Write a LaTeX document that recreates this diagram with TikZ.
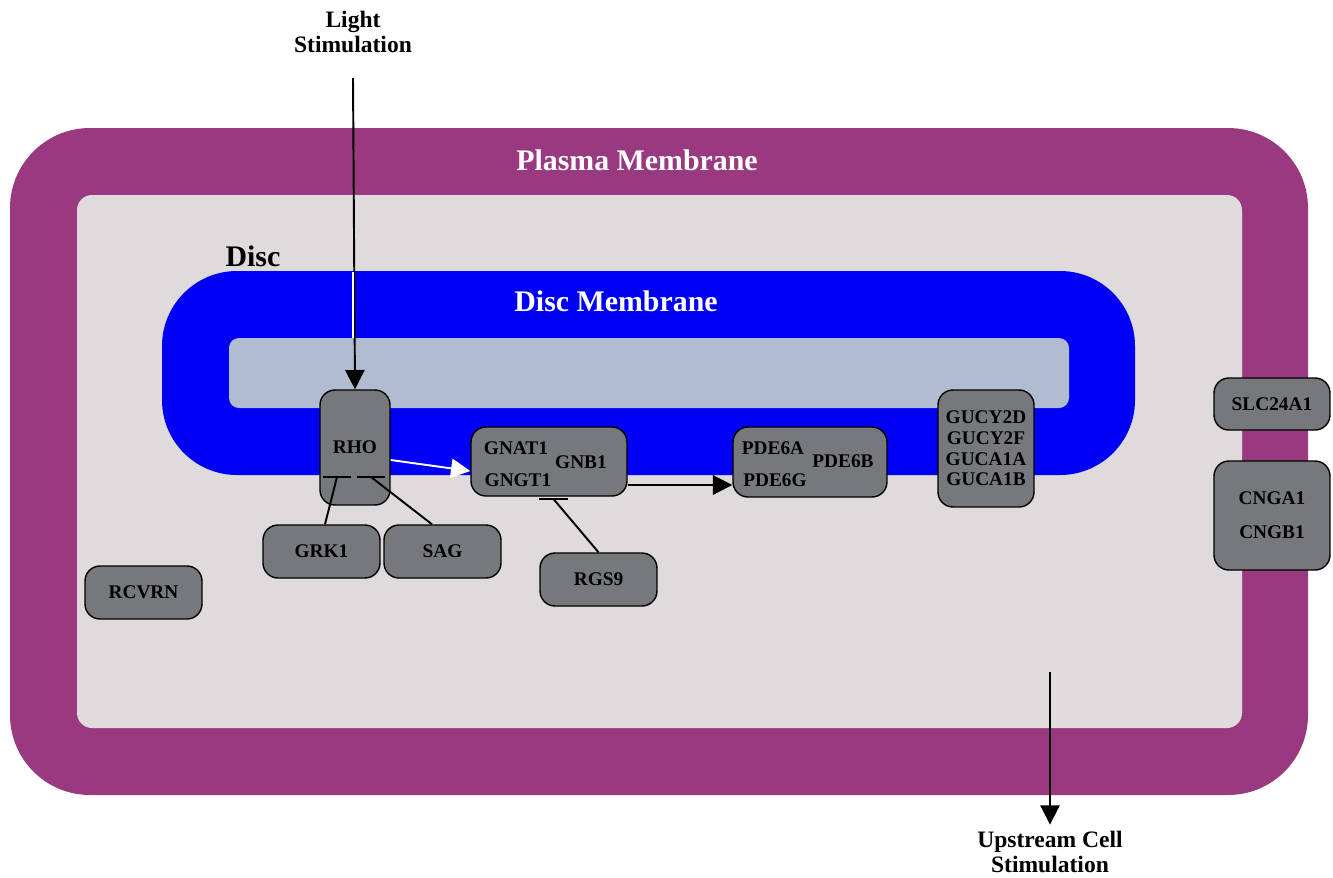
\documentclass[tikz,border=0pt]{standalone}
\usepackage{fontspec}
\setmainfont{Liberation Serif}
\usetikzlibrary{arrows.meta}
\definecolor{plasma}{RGB}{153,58,128}
\definecolor{cyto}{RGB}{223,218,219}
\definecolor{discblue}{RGB}{0,0,245}
\definecolor{lumen}{RGB}{176,189,208}
\definecolor{genegray}{RGB}{118,120,124}

\begin{document}
\begin{tikzpicture}[
    x=0.02cm, y=-0.02cm,
    gene/.style={rectangle, rounded corners=0.3cm, draw=black, line width=0.8pt, fill=genegray, align=center, inner sep=0pt, font=\bfseries\fontsize{11}{11.8}\selectfont},
    genetext/.style={inner sep=0pt, font=\bfseries\fontsize{11}{11.8}\selectfont},
    memlabel/.style={text=white, font=\bfseries\fontsize{17}{20}\selectfont},
    stim/.style={align=center, font=\bfseries\fontsize{13.4}{14.7}\selectfont},
    act/.style={line width=1.1pt, -{Triangle[length=11pt,width=11pt]}},
    inh/.style={line width=1.1pt},
]
\useasboundingbox (0,0) rectangle (1333,877);
% compartments
\fill[plasma, rounded corners=1.6cm] (10,128) rectangle (1308,795);
\fill[cyto, rounded corners=0.3cm] (77,195) rectangle (1242,728);
\fill[discblue, rounded corners=1.5cm] (162,271) rectangle (1135,475);
\fill[lumen, rounded corners=0.2cm] (229,338) rectangle (1069,408);
\node[memlabel] (plasmalbl) at (637,160) {Plasma Membrane};
\node[memlabel] (disclbl) at (616,301) {Disc Membrane};
\node[memlabel, text=black] (disc) at (253,256) {Disc};

% proteins
\node[gene, minimum width=1.4cm, minimum height=2.3cm] (rho) at (355,447.5) {RHO};
\node[gene, minimum width=3.12cm, minimum height=1.38cm] (gnat) at (549,461.5) {};
\node[genetext] (gnat1) at (516,448) {GNAT1};
\node[genetext] (gngt1) at (518,480) {GNGT1};
\node[genetext] (gnb1) at (581,462) {GNB1};
\node[gene, minimum width=3.08cm, minimum height=1.4cm] (pde) at (810,462) {};
\node[genetext] (pde6a) at (773,448) {PDE6A};
\node[genetext] (pde6g) at (775,480) {PDE6G};
\node[genetext] (pde6b) at (843,461) {PDE6B};
\node[gene, minimum width=1.92cm, minimum height=2.34cm] (gucy) at (986,448.5) {GUCY2D\\GUCY2F\\GUCA1A\\GUCA1B};
\node[gene, minimum width=2.32cm, minimum height=1.04cm] (slc) at (1272,404) {SLC24A1};
\node[gene, minimum width=2.32cm, minimum height=2.18cm, font=\bfseries\fontsize{11}{19.5}\selectfont] (cng) at (1272,515.5) {CNGA1\\CNGB1};
\node[gene, minimum width=2.34cm, minimum height=1.06cm] (grk) at (321.5,551.5) {GRK1};
\node[gene, minimum width=2.34cm, minimum height=1.06cm] (sag) at (442.5,551.5) {SAG};
\node[gene, minimum width=2.34cm, minimum height=1.06cm] (rgs) at (598.5,579.5) {RGS9};
\node[gene, minimum width=2.34cm, minimum height=1.06cm] (rcvrn) at (143.5,592.5) {RCVRN};

% stimuli
\node[stim] (light) at (353,32) {Light\\Stimulation};
\node[stim] (upstream) at (1050,852) {Upstream Cell\\Stimulation};
\coordinate (lightstart) at (353,78);
\coordinate (cytostart) at (1050,672);

% connectors
\draw[act] (lightstart) -- (rho.north);
\draw[line width=1.1pt, white] (353,272) -- (353,338);
\draw[act, white] ([yshift=-0.25cm]rho.east) -- ([yshift=-0.19cm]gnat.west);
\draw[act] ([yshift=-0.47cm]gnat.east) -- ([yshift=-0.47cm]gnat.east -| pde.west);
\draw[act] (cytostart) -- (upstream.north);

% inhibition
\coordinate (rhoG) at (337,477);
\coordinate (rhoS) at (371,477);
\coordinate (gnatR) at (553.5,499);
\draw[inh] (grk.north -| 325,0) -- (rhoG);
\draw[inh] ([xshift=-0.28cm]rhoG) -- ([xshift=0.28cm]rhoG);
\draw[inh] (sag.north -| 432,0) -- (rhoS);
\draw[inh] ([xshift=-0.28cm]rhoS) -- ([xshift=0.28cm]rhoS);
\draw[inh] (rgs.north) -- (gnatR);
\draw[inh] ([xshift=-0.29cm]gnatR) -- ([xshift=0.29cm]gnatR);
\end{tikzpicture}
\end{document}
